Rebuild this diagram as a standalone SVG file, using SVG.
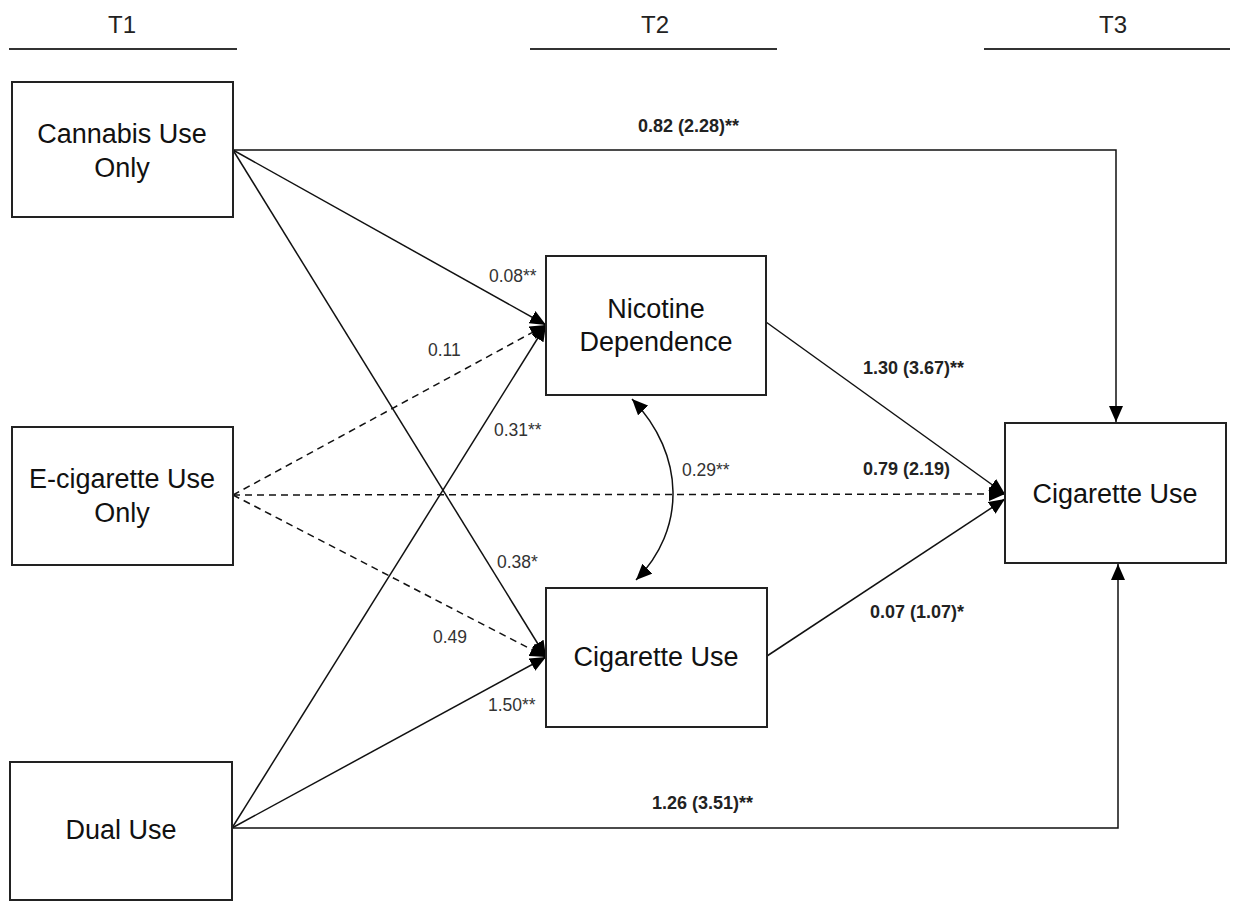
<svg xmlns="http://www.w3.org/2000/svg" width="1254" height="903" viewBox="0 0 1254 903">
<style>
.box{fill:#fff;stroke:#222;stroke-width:2}
.nt{font-family:"Liberation Sans",Arial,sans-serif;font-size:27px;fill:#111;text-anchor:middle}
.tl{font-family:"Liberation Sans",Arial,sans-serif;font-size:24px;fill:#222;text-anchor:middle}
.lab{font-family:"Liberation Sans",Arial,sans-serif;font-size:17.5px;fill:#333}
.bl{font-family:"Liberation Sans",Arial,sans-serif;font-size:18px;font-weight:bold;fill:#222}
.c{fill:none;stroke:#111;stroke-width:1.5}
.d{stroke-dasharray:7,5}
.hr{stroke:#333;stroke-width:2}
</style>
<defs>
<marker id="ah" markerUnits="userSpaceOnUse" markerWidth="18" markerHeight="14" refX="16" refY="7" orient="auto-start-reverse"><path d="M0,0 L16,7 L0,14 Z" fill="#000"/></marker>
</defs>
<g id="headers">
<text class="tl" x="122" y="33">T1</text>
<line class="hr" x1="9" y1="49" x2="237" y2="49"/>
<text class="tl" x="655" y="33">T2</text>
<line class="hr" x1="530" y1="49" x2="777" y2="49"/>
<text class="tl" x="1113" y="33">T3</text>
<line class="hr" x1="984" y1="49" x2="1230" y2="49"/>
</g>
<g id="connectors">
<path class="c" d="M233,150 H1116 V422" marker-end="url(#ah)"/>
<path class="c" d="M233,150 L546,325" marker-end="url(#ah)"/>
<path class="c" d="M233,150 L546,657" marker-end="url(#ah)"/>
<path class="c d" d="M233,495 L546,325" marker-end="url(#ah)"/>
<path class="c d" d="M233,495 L546,657" marker-end="url(#ah)"/>
<path class="c d" d="M233,495 L1005,494" marker-end="url(#ah)"/>
<path class="c" d="M232,828 L546,325" marker-end="url(#ah)"/>
<path class="c" d="M232,828 L546,657" marker-end="url(#ah)"/>
<path class="c" d="M232,828 H1118 V564" marker-end="url(#ah)"/>
<path class="c" d="M766,322 L1005,494" marker-end="url(#ah)"/>
<path class="c" d="M767,656 L1005,499" marker-end="url(#ah)"/>
<path class="c" d="M632,399 C686,455 686,530 636,580" marker-start="url(#ah)" marker-end="url(#ah)"/>
</g>
<g id="labels">
<text class="bl" x="638" y="132">0.82 (2.28)**</text>
<text class="lab" x="489" y="282">0.08**</text>
<text class="lab" x="428" y="356">0.11</text>
<text class="lab" x="494" y="436">0.31**</text>
<text class="lab" x="682" y="476">0.29**</text>
<text class="lab" x="497" y="568">0.38*</text>
<text class="lab" x="433" y="643">0.49</text>
<text class="lab" x="488" y="711">1.50**</text>
<text class="bl" x="863" y="374">1.30 (3.67)**</text>
<text class="bl" x="863" y="475">0.79 (2.19)</text>
<text class="bl" x="870" y="618">0.07 (1.07)*</text>
<text class="bl" x="652" y="809">1.26 (3.51)**</text>
</g>
<g id="cannabis"><rect class="box" x="12" y="82" width="221" height="135"/><text class="nt" x="122" y="143">Cannabis Use</text><text class="nt" x="122" y="177">Only</text></g>
<g id="ecig"><rect class="box" x="12" y="427" width="221" height="138"/><text class="nt" x="122" y="488">E-cigarette Use</text><text class="nt" x="122" y="522">Only</text></g>
<g id="dual"><rect class="box" x="10" y="762" width="222" height="138"/><text class="nt" x="121" y="839">Dual Use</text></g>
<g id="nicotine"><rect class="box" x="546" y="256" width="220" height="139"/><text class="nt" x="656" y="318">Nicotine</text><text class="nt" x="656" y="351">Dependence</text></g>
<g id="cig2"><rect class="box" x="546" y="588" width="221" height="139"/><text class="nt" x="656" y="666">Cigarette Use</text></g>
<g id="cig3"><rect class="box" x="1005" y="423" width="221" height="140"/><text class="nt" x="1115" y="503">Cigarette Use</text></g>
</svg>
